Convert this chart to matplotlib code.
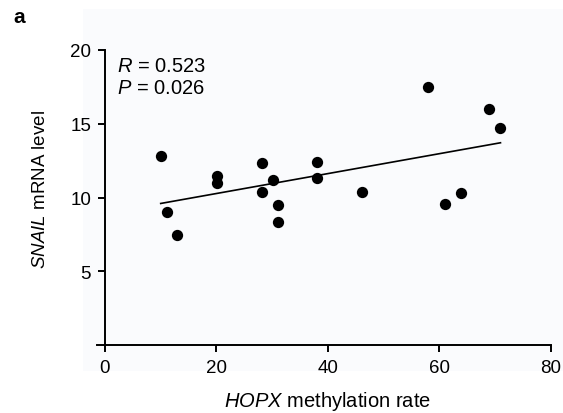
import numpy as np
import matplotlib
matplotlib.use('Agg')
import matplotlib.pyplot as plt
from matplotlib.patches import Rectangle

plt.rcParams['font.family'] = ['Liberation Sans', 'DejaVu Sans']
plt.rcParams['mathtext.fontset'] = 'custom'
plt.rcParams['mathtext.rm'] = 'Liberation Sans'
plt.rcParams['mathtext.it'] = 'Liberation Sans:italic'

# data
hopx_meth = [10.0, 11.1, 13.0, 20.1, 20.1, 28.1, 28.1, 30.1, 31.1, 31.1,
             38.1, 38.1, 46.1, 58.0, 61.0, 64.0, 68.9, 71.0]
snail_mrna = [12.84, 8.99, 7.45, 11.49, 10.95, 12.36, 10.38, 11.17, 9.50, 8.36,
              12.39, 11.35, 10.34, 17.52, 9.55, 10.32, 15.97, 14.71]
x_ticks = [0, 20, 40, 60, 80]
y_ticks = [5, 10, 15, 20]
r_text = r'$R$ = 0.523'
p_text = r'$P$ = 0.026'

x = np.array(hopx_meth)
y = np.array(snail_mrna)
slope, icpt = np.polyfit(x, y, 1)
xl = np.array([x.min(), x.max()])

fig = plt.figure(figsize=(5.63, 4.14), dpi=100)
# faint tinted panel behind the plot (as in the scanned figure)
bg = Rectangle((83 / 563, 42 / 414), 1 - 83 / 563, 362 / 414,
               transform=fig.transFigure, color='#fafbfd', lw=0)
bg.set_zorder(-10)
fig.patches.append(bg)
ax = fig.add_axes([0.1865, 0.164, 0.7915, 0.713])
ax.set_zorder(1)
ax.set_facecolor('none')

ax.scatter(x, y, s=66, color='black', zorder=3, linewidths=0)
ax.plot(xl, slope * xl + icpt, color='black', lw=1.2, zorder=2)

ax.set_xlim(0, 80)
ax.set_ylim(0, 20)
ax.set_xticks(x_ticks)
ax.set_yticks(y_ticks)
ax.tick_params(labelsize=13.5, width=1.4, length=5, direction='out', pad=5)
for s in ('top', 'right'):
    ax.spines[s].set_visible(False)
for s in ('left', 'bottom'):
    ax.spines[s].set_linewidth(1.4)
ax.spines['bottom'].set_bounds(-1.4, 80)

ax.set_xlabel(r'$\it{HOPX}$ methylation rate', fontsize=14.5)
ax.xaxis.set_label_coords(0.5, -0.15)
ax.set_ylabel(r'$\it{SNAIL}$ mRNA level', fontsize=13.5)
ax.yaxis.set_label_coords(-0.125, 0.53)

ax.text(2.1, 18.6, r_text, fontsize=14.5, va='baseline')
ax.text(2.1, 17.1, p_text, fontsize=14.5, va='baseline')

fig.text(0.023, 0.944, 'a', fontsize=15, fontweight='bold', va='baseline')

fig.savefig('out.png', dpi=100)
